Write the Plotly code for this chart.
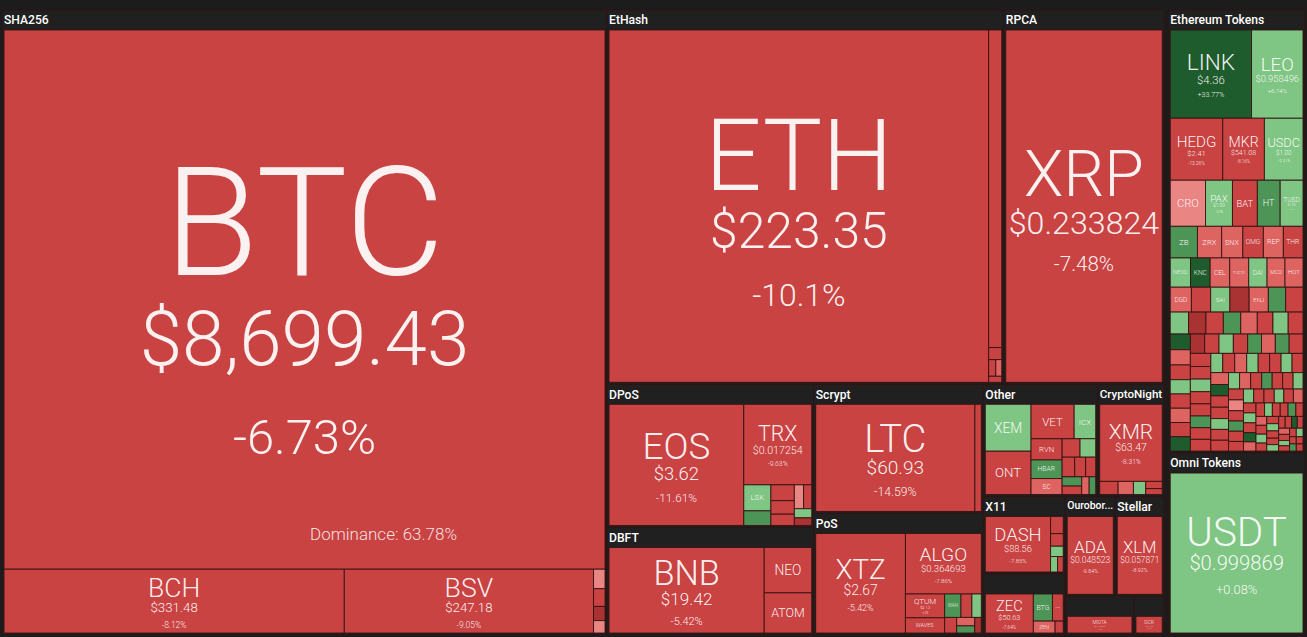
import math
import plotly.graph_objects as go

# ---------------- data: (ticker, relative market cap, price text, 24h change %) ----------------
# price None -> no text in the tile, "" -> ticker only
SHA256 = [("BTC", 318, "$8,699.43", -6.73), ("BCH", 21.3, "$331.48", -8.12), ("BSV", 15.6, "$247.18", -9.05),
          ("PPC", 0.22, None, -1.5), ("NMC", 0.2, None, -9.0), ("XBC", 0.16, None, -16.0), ("EMC", 0.14, None, -1.0)]
ETHASH = [("ETH", 135, "$223.35", -10.1), ("ETC", 4.2, None, -9.4), ("UBQ", 0.16, None, -8.0),
          ("EXP", 0.12, None, -5.0), ("CLO", 0.1, None, -3.0), ("ETHO", 0.08, None, -12.0)]
RPCA = [("XRP", 56.5, "$0.233824", -7.48)]
DPOS = [("EOS", 18.5, "$3.62", -11.61), ("TRX", 6.2, "$0.017254", -9.63), ("LSK", 0.8, "", 2.1),
        ("ARK", 0.45, None, 11.0), ("BTS", 0.42, None, -7.0), ("STEEM", 0.36, None, -9.0), ("GXC", 0.3, None, -13.0),
        ("WAX", 0.25, None, -1.5), ("NULS", 0.22, None, -5.0), ("RISE", 0.18, None, 1.0), ("SHIFT", 0.15, None, -17.0)]
POS = [("XTZ", 10.5, "$2.67", -5.42), ("ALGO", 5.4, "$0.364693", -7.86), ("QTUM", 1.1, "$2.13", -6.2),
       ("WAVES", 0.7, "", -8.3), ("WAN", 0.45, "", 9.5), ("NXT", 0.3, None, -6.0), ("PIVX", 0.26, None, 2.0),
       ("ONG", 0.22, None, -10.0), ("BLK", 0.18, None, -3.0), ("NAV", 0.15, None, 12.0), ("POT", 0.12, None, -15.0)]
OTHER = [("XEM", 2.6, "", 1.6), ("ONT", 2.4, "", -8.4), ("VET", 1.8, "", -8.9), ("ICX", 0.9, "", 1.2),
         ("HBAR", 0.7, "", 9.1), ("RVN", 0.8, "", -7.3), ("SC", 0.6, "", -2.6), ("BTT", 0.4, None, -6.0),
         ("NPXS", 0.35, None, 2.5), ("MAID", 0.3, None, -9.0), ("ARDR", 0.26, None, -4.5), ("NANO", 0.24, None, -11.0),
         ("ZIL", 0.22, None, 8.0), ("DGB", 0.2, None, -7.0), ("STRAT", 0.16, None, -2.0), ("ELA", 0.14, None, 10.0)]
DBFT = [("BNB", 16, "$19.42", -5.42), ("NEO", 2.6, "", -8.2), ("ATOM", 2.3, "", -8.6)]
SCRYPT = [("LTC", 19.8, "$60.93", -14.59), ("DOGE", 0.8, None, -5.0)]
CRYPTONIGHT = [("XMR", 6.0, "$63.47", -8.31), ("XHV", 0.3, None, -6.0), ("BCN", 0.25, None, -3.0),
               ("ETN", 0.2, None, 4.0), ("AEON", 0.15, None, -12.0), ("MSR", 0.12, None, -8.0)]
X11 = [("DASH", 5.0, "$88.56", -7.85), ("CRW", 0.3, None, -9.0), ("MUE", 0.22, None, -14.0),
       ("BTX", 0.18, None, 7.0), ("XST", 0.15, None, 1.5), ("ONION", 0.12, None, -6.0)]
EQUIHASH = [("ZEC", 2.9, "$50.63", -7.64), ("BTG", 0.8, "", 10.4), ("KMD", 0.45, "", -5.2),
            ("ZEN", 0.4, "", -2.8), ("ZCL", 0.15, None, -8.0)]
OUROBOROS = [("ADA", 4.7, "$0.048523", -9.84)]
STELLAR = [("XLM", 4.6, "$0.057871", -8.92)]
TANGLE = [("MIOTA", 2.5, "$0.220988", -9.51)]
BLAKE256 = [("DCR", 1.1, "$17.69", -6.05)]

ETH_TOKENS_MAJOR = [("LINK", 7.5, "$4.36", 33.77), ("LEO", 4.75, "$0.958496", 6.74), ("HEDG", 3.4, "$2.41", -13.26),
                    ("MKR", 2.7, "$541.08", -8.16), ("USDC", 2.5, "$1.00", 0.21), ("CRO", 1.7, "", -1.2),
                    ("PAX", 1.3, "$1.00", 0.3), ("BAT", 1.2, "", -9.0), ("HT", 1.1, "", 10.0),
                    ("TUSD", 1.1, "$1.00", 0.4), ("ZB", 0.9, "", 10.5), ("ZRX", 0.8, "", -3.0), ("THR", 0.65, "", -6.0)]
ETH_TOKENS_MID = [("SNX", 0.7, "", -3.1), ("OMG", 0.68, "", -10.2), ("REP", 0.66, "", -3.3), ("NEXO", 0.62, "", 1.0),
                  ("KNC", 0.6, "", 20.0), ("CEL", 0.6, "", -3.6), ("THETA", 0.58, "", -2.5), ("DAI", 0.56, "", 1.1),
                  ("MCO", 0.55, "", -3.2), ("HOT", 0.55, "", -3.0), ("DGD", 0.55, "", -2.9), ("BNT", 0.5, None, -7.0),
                  ("SAI", 0.5, "", 1.5), ("ELF", 0.5, None, -16.0), ("ENJ", 0.5, "", -3.4), ("QNT", 0.45, None, 10.0),
                  ("SXP", 0.45, None, -8.0), ("REN", 0.42, None, 2.0), ("NMR", 0.4, None, -17.0), ("LRC", 0.4, None, -9.0),
                  ("GNT", 0.4, None, 11.0), ("MANA", 0.38, None, -3.0), ("SNT", 0.36, None, -12.0), ("WTC", 0.35, None, 1.0),
                  ("POWR", 0.34, None, -7.0), ("STORJ", 0.33, None, 20.0), ("ANT", 0.32, None, -2.0), ("RLC", 0.31, None, -10.0),
                  ("LOOM", 0.3, None, 3.0), ("BAND", 0.3, None, -6.0), ("FUN", 0.29, None, -15.0), ("POLY", 0.28, None, 9.0)]
ETH_TOKENS_SMALL = [("ABT", 0.3, None, -3.0), ("AGI", 0.3, None, -9.0), ("AMB", 0.3, None, 16.0), ("BRD", 0.29, None, -7.0),
                    ("CS", 0.29, None, 2.0), ("DTA", 0.29, None, -12.0), ("EKO", 0.28, None, -2.0), ("GEN", 0.28, None, 10.0),
                    ("HYDRO", 0.28, None, -8.0), ("IHT", 0.28, None, -5.0),
                    ("MTL", 0.27, None, -8.0), ("REQ", 0.27, None, 2.0), ("DENT", 0.26, None, -6.0), ("CVC", 0.26, None, -9.0),
                    ("RCN", 0.25, None, 12.0), ("TNT", 0.25, None, -4.0), ("AMPL", 0.25, None, -11.0), ("BTU", 0.24, None, 1.0),
                    ("AE", 0.24, None, -7.0), ("GNO", 0.24, None, -3.0),
                    ("SAN", 0.23, None, 6.0), ("MATIC", 0.23, None, -9.0), ("FET", 0.23, None, -12.0), ("CENNZ", 0.22, None, 3.0),
                    ("ICN", 0.22, None, -6.0), ("DATA", 0.22, None, -2.0), ("GTO", 0.21, None, 18.0), ("QSP", 0.21, None, -8.0),
                    ("EDO", 0.21, None, -5.0), ("AST", 0.2, None, 1.0),
                    ("BLZ", 0.2, None, -10.0), ("MFT", 0.2, None, -7.0), ("ELEC", 0.19, None, 4.0), ("APPC", 0.19, None, -3.0),
                    ("CND", 0.19, None, -9.0), ("WPR", 0.18, None, 9.0), ("VIB", 0.18, None, -6.0), ("POE", 0.18, None, -12.0),
                    ("LEND", 0.17, None, 2.0), ("OST", 0.17, None, -8.0),
                    ("KEY", 0.17, None, -1.0), ("DOCK", 0.16, None, -7.0), ("MDA", 0.16, None, 14.0), ("SNGLS", 0.16, None, -5.0),
                    ("NCASH", 0.15, None, -9.0), ("PPT", 0.15, None, 1.0), ("RDN", 0.15, None, -4.0), ("TRAC", 0.15, None, -10.0),
                    ("UTK", 0.14, None, 6.0), ("YOYO", 0.14, None, -8.0),
                    ("EVX", 0.14, None, -3.0), ("ARN", 0.13, None, -6.0), ("LUN", 0.13, None, 2.0), ("QKC", 0.13, None, -9.0),
                    ("GVT", 0.12, None, 20.0), ("ADX", 0.12, None, -2.0), ("BQX", 0.12, None, -8.0), ("CDT", 0.11, None, 3.0),
                    ("DLT", 0.11, None, -11.0), ("INS", 0.11, None, -5.0),
                    ("MOD", 0.11, None, 10.0), ("NAS", 0.1, None, -6.0), ("OAX", 0.1, None, -3.0), ("SNM", 0.1, None, -9.0),
                    ("STORM", 0.1, None, 1.0), ("TNB", 0.09, None, -7.0), ("VIBE", 0.09, None, -4.0), ("WABI", 0.09, None, 7.0),
                    ("AION", 0.09, None, -10.0), ("BCPT", 0.08, None, -6.0),
                    ("CMT", 0.08, None, 2.0), ("DNT", 0.08, None, -8.0), ("ENG", 0.08, None, -5.0), ("FUEL", 0.07, None, 15.0),
                    ("GRID", 0.07, None, -9.0), ("HST", 0.07, None, -3.0), ("IOTX", 0.07, None, -7.0), ("MTH", 0.06, None, 4.0),
                    ("NGC", 0.06, None, -8.0), ("PLR", 0.06, None, -6.0),
                    ("QLC", 0.06, None, 1.0), ("RPX", 0.05, None, -10.0), ("SUB", 0.05, None, -4.0), ("TRIG", 0.05, None, 9.0),
                    ("WINGS", 0.05, None, -7.0)]
OMNI_TOKENS = [("USDT", 24, "$0.999869", 0.08)]

# (group id, header text, rows)
LEFT_GROUPS = [("SHA256", "SHA256", SHA256), ("EtHash", "EtHash", ETHASH), ("RPCA", "RPCA", RPCA),
               ("DPoS", "DPoS", DPOS), ("DBFT", "DBFT", DBFT), ("Scrypt", "Scrypt", SCRYPT), ("PoS", "PoS", POS),
               ("Other", "Other", OTHER), ("CryptoNight", "CryptoNight", CRYPTONIGHT), ("X11", "X11", X11),
               ("Equihash", "", EQUIHASH), ("Ouroboros", "Ourobor...", OUROBOROS), ("Stellar", "Stellar", STELLAR),
               ("Tangle", "", TANGLE), ("Blake256", "", BLAKE256)]
RIGHT_GROUPS = [("Ethereum Tokens", "Ethereum Tokens", ETH_TOKENS_MAJOR + ETH_TOKENS_MID + ETH_TOKENS_SMALL),
                ("Omni Tokens", "Omni Tokens", OMNI_TOKENS)]

DOMINANCE = "Dominance: 63.78%"

W, H = 1307, 637
SHIFT = 10          # the page is scrolled by this much so the empty root header strip is mostly hidden
FIG_H = H + SHIFT
BG = "#1c1c1c"
HEADER_BG = "#202020"
BLANK = " "


def tile_color(ch):
    if ch >= 15:
        return "#1f5c2d"
    if ch >= 8:
        return "#4c9556"
    if ch >= 0:
        return "#7fc583"
    if ch > -2:
        return "#e98583"
    if ch > -4:
        return "#de6462"
    if ch > -15:
        return "#c94343"
    return "#a93232"


def fmt_change(ch):
    s = f"{ch:+.2f}"
    if "." in s:
        s = s.rstrip("0").rstrip(".")
    return s + "%"


total_cap = sum(r[1] for g in LEFT_GROUPS + RIGHT_GROUPS for r in g[2])
left_cap = sum(r[1] for g in LEFT_GROUPS for r in g[2])
split = left_cap / total_cap
px_per_unit = W * H / total_cap


def build(groups):
    d = dict(ids=[], parents=[], values=[], colors=[], labels=[], texts=[], sizes=[], hlabels=[], htexts=[])
    for gid, header, rows in groups:
        d["ids"].append(gid); d["parents"].append(""); d["values"].append(0); d["colors"].append(HEADER_BG)
        d["labels"].append(BLANK); d["texts"].append(BLANK); d["sizes"].append(12)
        d["hlabels"].append(header if header else BLANK); d["htexts"].append(header if header else BLANK)
        for tk, cap, price, ch in rows:
            d["ids"].append(f"{gid}/{tk}"); d["parents"].append(gid)
            d["values"].append(cap); d["colors"].append(tile_color(ch))
            d["labels"].append(tk); d["hlabels"].append(tk); d["htexts"].append(BLANK)
            side = math.sqrt(cap * px_per_unit)
            L = min(0.26 * side, 1.0 * side / max(len(tk), 3))
            if price is None or L < 5:
                d["texts"].append(BLANK); d["sizes"].append(10)
                continue
            parts = [f"<span style='font-size:{L:.1f}px'>{tk}</span>"]
            if price:
                parts.append(f"<span style='font-size:{0.5 * L:.1f}px'>{price}</span>")
                parts.append(f"<span style='font-size:{0.32 * L:.1f}px'>{fmt_change(ch)}</span>")
            d["texts"].append("<br>".join(parts))
            d["sizes"].append(round(0.45 * L, 1))
    return d


def traces(groups, dom):
    d = build(groups)
    common = dict(ids=d["ids"], parents=d["parents"], values=d["values"],
                  branchvalues="remainder", sort=True,
                  tiling=dict(packing="squarify", squarifyratio=1.5, pad=0),
                  pathbar=dict(visible=False), hoverinfo="skip", textinfo="text",
                  domain=dict(x=dom, y=[0, 1]))
    tiles = go.Treemap(**common, labels=d["labels"],
                       marker=dict(colors=d["colors"], depthfade=False,
                                   line=dict(color="rgba(50,18,18,0.85)", width=1),
                                   pad=dict(t=20, l=2, r=2, b=2)),
                       text=d["texts"], textposition="middle center",
                       textfont=dict(family="Roboto", size=d["sizes"], color="rgba(255,255,255,0.93)", weight=300))
    heads = go.Treemap(**common, labels=d["hlabels"],
                       marker=dict(colors=["rgba(0,0,0,0)"] * len(d["ids"]), depthfade=False,
                                   line=dict(color="rgba(0,0,0,0)", width=0),
                                   pad=dict(t=20, l=2, r=2, b=2)),
                       text=d["htexts"], textposition="top left",
                       textfont=dict(family="Roboto", size=13, color="#ffffff", weight=500))
    return [tiles, heads]


fig = go.Figure(traces(LEFT_GROUPS, [0, split]) + traces(RIGHT_GROUPS, [split, 1]))
fig.add_annotation(text=DOMINANCE, xref="paper", yref="paper", x=0.236, y=(H - 546) / FIG_H, showarrow=False,
                   font=dict(family="Roboto", size=17, color="rgba(255,255,255,0.85)", weight=300))
fig.update_layout(width=W, height=FIG_H, margin=dict(l=0, r=0, t=0, b=0),
                  paper_bgcolor=BG, plot_bgcolor=BG, showlegend=False, hovermode=False)
fig.write_html("out.html", config={"displayModeBar": False},
               post_script=f"document.body.style.margin='-{SHIFT}px 0 0 0';"
                           f"document.body.style.background='{BG}';document.body.style.overflow='hidden';")
